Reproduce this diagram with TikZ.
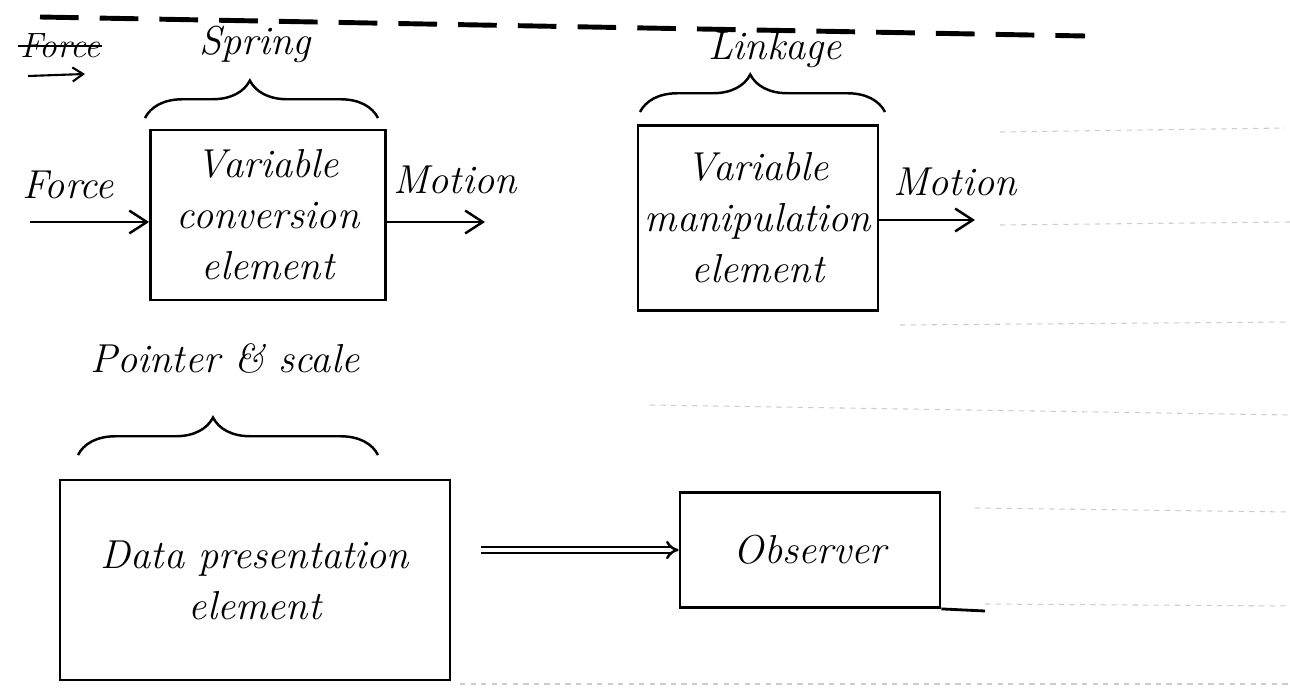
\documentclass[tikz,border=0pt]{standalone}
\usetikzlibrary{arrows.meta,decorations.pathreplacing}
\begin{document}
\begin{tikzpicture}[x=0.02cm,y=-0.02cm,
  txt/.style={font=\fontsize{23}{29}\selectfont\itshape, align=center, inner sep=2pt},
  blk/.style={draw, line width=1.6pt, txt},
  arr/.style={line width=1.4pt, -{Straight Barb[length=10pt,width=13pt,line width=1.4pt]}},
  brc/.style={line width=1.4pt, decorate, decoration={brace, amplitude=0.75cm, aspect=0.45}},
  faint/.style={gray!40, dashed, line width=0.6pt}]
\useasboundingbox (0,0) rectangle (1290,689);
% top dashed line
\coordinate (d1) at (40,17);
\coordinate (d2) at (1085,36);
\draw[line width=2.8pt, dash pattern=on 22pt off 12pt] (d1) -- (d2);
% faint ruled lines on the right
\draw[faint] (1000,132) -- (1285,128);
\draw[faint] (1000,225) -- (1290,222);
\draw[faint] (900,325) -- (1290,322);
\draw[faint] (650,405) -- (1290,415);
\draw[faint] (975,508) -- (1290,512);
\draw[faint] (985,604) -- (1290,606);
\draw[faint] (460,684) -- (1290,684);
% crossed-out label
\node[font=\fontsize{20}{24}\selectfont\itshape, inner sep=1pt] (fx) at (60,46) {Force};
\draw[line width=1.2pt] (fx.west) -- (fx.east);
\coordinate (fxa) at (28,76);
\coordinate (fxb) at (85,74);
\draw[line width=1.2pt, -{Straight Barb[length=6pt,width=8pt]}] (fxa) -- (fxb);
% boxes
\node[blk, minimum width=4.7cm, minimum height=3.4cm] (b1) at (268,215) {Variable\\conversion\\element};
\node[blk, minimum width=4.8cm, minimum height=3.7cm, inner sep=1pt] (b2) at (758,218) {Variable\\manipulation\\element};
\node[blk, minimum width=7.8cm, minimum height=4cm] (b3) at (255,580) {Data presentation\\element};
\node[blk, minimum width=5.2cm, minimum height=2.3cm] (b4) at (810,550) {Observer};
% braces and labels
\coordinate (s1) at (145,118); \coordinate (s2) at (378,118);
\draw[brc] (s1) -- (s2);
\node[txt] (spring) at (255,44) {Spring};
\coordinate (l1) at (640,112); \coordinate (l2) at (885,112);
\draw[brc] (l1) -- (l2);
\node[txt] (link) at (775,50) {Linkage};
\coordinate (p1) at (78,455); \coordinate (p2) at (378,455);
\draw[brc] (p1) -- (p2);
\node[txt] (ptr) at (225,358) {Pointer \& scale};
% input / output arrows
\node[txt] (force) at (68,185) {Force};
\coordinate (fin) at (30,222);
\draw[arr] (fin) -- (fin -| b1.west);
\coordinate (m1) at (485,222);
\draw[arr] (b1.east |- m1) -- (m1);
\node[txt] (mot1) at (455,180) {Motion};
\coordinate (m2) at (975,220);
\draw[arr] (b2.east |- m2) -- (m2);
\node[txt] (mot2) at (955,182) {Motion};
\draw[line width=1.4pt, -{Implies}, double, double distance=2pt, shorten <=0.6cm] (b3.east |- b4.west) -- (b4.west);
% observer baseline extension
\coordinate (ob) at (985,611);
\draw[line width=1.6pt] (b4.south east) -- (ob);
\end{tikzpicture}
\end{document}
